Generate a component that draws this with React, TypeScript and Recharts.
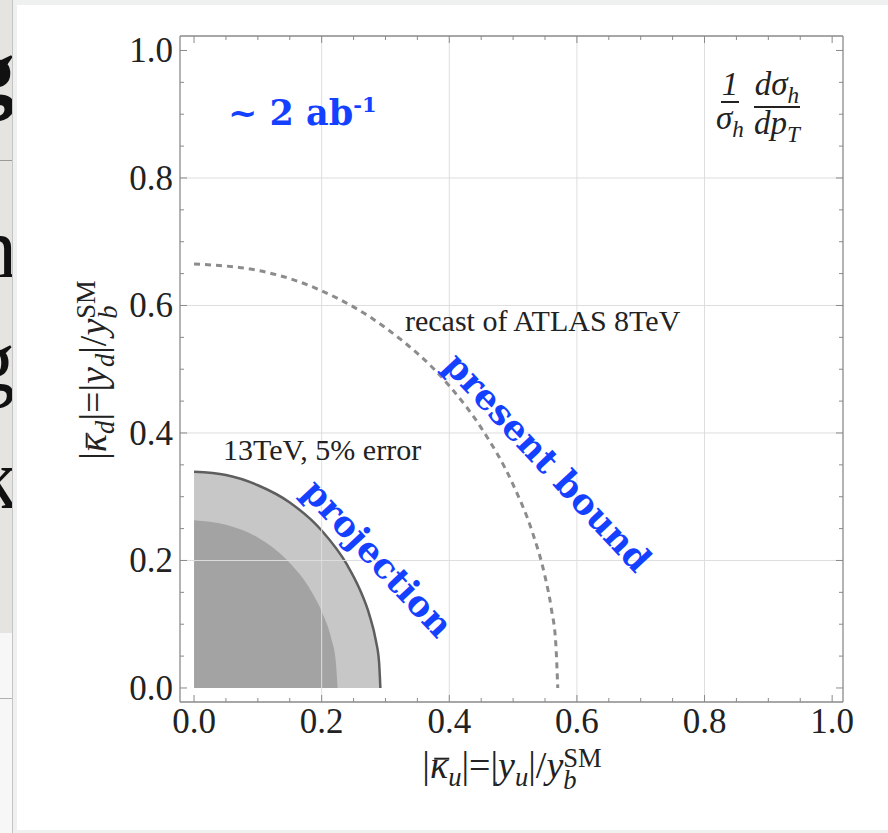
import React from "react";
import { ComposedChart, Area, Line, XAxis, YAxis, ReferenceLine } from "recharts";

// tick positions (minor every 0.05, labels on the 0.2 ones)
const ticks = [
  0, 0.05, 0.1, 0.15, 0.2, 0.25, 0.3, 0.35, 0.4, 0.45, 0.5,
  0.55, 0.6, 0.65, 0.7, 0.75, 0.8, 0.85, 0.9, 0.95, 1.0,
];
const gridValues = [0.2, 0.4, 0.6, 0.8];

// 13TeV, 5% error projection (outer light band)
const outerBand = [
  { x: 0, y: 0.339 },
  { x: 0.05, y: 0.334 },
  { x: 0.1, y: 0.318 },
  { x: 0.15, y: 0.291 },
  { x: 0.2, y: 0.247 },
  { x: 0.24, y: 0.193 },
  { x: 0.26, y: 0.154 },
  { x: 0.275, y: 0.114 },
  { x: 0.285, y: 0.074 },
  { x: 0.29, y: 0.04 },
  { x: 0.292, y: 0 },
];

// inner darker band
const innerBand = [
  { x: 0, y: 0.263 },
  { x: 0.05, y: 0.256 },
  { x: 0.1, y: 0.236 },
  { x: 0.15, y: 0.196 },
  { x: 0.18, y: 0.158 },
  { x: 0.2, y: 0.12 },
  { x: 0.215, y: 0.078 },
  { x: 0.222, y: 0.043 },
  { x: 0.225, y: 0 },
];

// recast of ATLAS 8TeV (present bound)
const atlasBound = [
  { x: 0, y: 0.665 },
  { x: 0.1, y: 0.655 },
  { x: 0.2, y: 0.623 },
  { x: 0.3, y: 0.565 },
  { x: 0.4, y: 0.474 },
  { x: 0.45, y: 0.408 },
  { x: 0.5, y: 0.319 },
  { x: 0.53, y: 0.245 },
  { x: 0.55, y: 0.175 },
  { x: 0.56, y: 0.124 },
  { x: 0.567, y: 0.068 },
  { x: 0.57, y: 0 },
];

const FRAME = "#8a8a8a";
const BLUE = "#1440ff";
const SERIF = "'Liberation Serif', 'Times New Roman', serif";
const BOLD_SERIF = "'DejaVu Serif', serif";
const X_DOMAIN = [-0.022, 1.017];
const Y_DOMAIN = [-0.022, 1.0227];

const isMajor = (v: number) => Math.abs(v * 5 - Math.round(v * 5)) < 1e-6;

const BottomTick = (props: any) => {
  const { x, y, payload } = props;
  const v = payload.value;
  const major = isMajor(v);
  return (
    <g>
      <line x1={x} x2={x} y1={y} y2={y - (major ? 7 : 4)} stroke={FRAME} />
      {major && (
        <text x={x} y={y + 31} textAnchor="middle" fontSize={35} fontFamily={SERIF} fill="#222">
          {v.toFixed(1)}
        </text>
      )}
    </g>
  );
};

const TopTick = (props: any) => {
  const { x, y, payload } = props;
  const major = isMajor(payload.value);
  return <line x1={x} x2={x} y1={y} y2={y + (major ? 7 : 4)} stroke={FRAME} />;
};

const LeftTick = (props: any) => {
  const { x, y, payload } = props;
  const v = payload.value;
  const major = isMajor(v);
  return (
    <g>
      <line x1={x} x2={x + (major ? 7 : 4)} y1={y} y2={y} stroke={FRAME} />
      {major && (
        <text x={x - 7} y={y + 12} textAnchor="end" fontSize={35} fontFamily={SERIF} fill="#222">
          {v.toFixed(1)}
        </text>
      )}
    </g>
  );
};

const RightTick = (props: any) => {
  const { x, y, payload } = props;
  const major = isMajor(payload.value);
  return <line x1={x} x2={x - (major ? 7 : 4)} y1={y} y2={y} stroke={FRAME} />;
};

const Frac = ({ num, den }: { num: React.ReactNode; den: React.ReactNode }) => (
  <span style={{ display: "inline-flex", flexDirection: "column", alignItems: "center", lineHeight: 0.9 }}>
    <span style={{ borderBottom: "2px solid #222", padding: "0 1px 1px" }}>{num}</span>
    <span style={{ paddingTop: 1 }}>{den}</span>
  </span>
);

const SubSup = ({ sub, sup }: { sub: string; sup: string }) => (
  <span style={{ display: "inline-flex", flexDirection: "column", verticalAlign: "middle", fontSize: "0.7em", lineHeight: 0.85 }}>
    <span>{sup}</span>
    <span style={{ fontStyle: "italic" }}>{sub}</span>
  </span>
);

const Kappa = ({ sub }: { sub: string }) => (
  <span>
    <i style={{ position: "relative" }}>
      κ
      <span style={{ position: "absolute", left: "0.12em", right: "-0.02em", top: "0.36em", borderTop: "2px solid #222" }} />
    </i>
    <sub style={{ fontSize: "0.7em", fontStyle: "italic" }}>{sub}</sub>
  </span>
);

const ySub = (text: string) => (
  <span>
    <i>y</i>
    <sub style={{ fontSize: "0.7em", fontStyle: "italic" }}>{text}</sub>
  </span>
);

export default function App() {
  return (
    <div style={{ position: "absolute", left: 0, top: 0, width: 888, height: 833, overflow: "hidden", background: "#fff", fontFamily: SERIF }}>
      {/* page behind the panel */}
      <div style={{ position: "absolute", left: 0, top: 0, width: 13, height: 633, background: "#e6e4e1", overflow: "hidden" }}>
        <div style={{ position: "absolute", left: 0, top: 160, width: 13, height: 1, background: "#9a9a9a" }} />
        <div style={{ position: "absolute", right: -2, top: 28, fontSize: 90, lineHeight: 1, color: "#111", fontWeight: "bold" }}>g</div>
        <div style={{ position: "absolute", right: -4, top: 205, fontSize: 86, lineHeight: 1, color: "#111" }}>h</div>
        <div style={{ position: "absolute", right: -2, top: 318, fontSize: 86, lineHeight: 1, color: "#111" }}>g</div>
        <div style={{ position: "absolute", right: -5, top: 436, fontSize: 86, lineHeight: 1, color: "#111" }}>k</div>
      </div>
      <div style={{ position: "absolute", left: 0, top: 633, width: 13, height: 200, background: "#f7f7f7" }}>
        <div style={{ position: "absolute", left: 0, top: 65, width: 13, height: 1, background: "#b0b0b0" }} />
      </div>
      <div style={{ position: "absolute", left: 12, top: 0, width: 1, height: 833, background: "#c4c4c4" }} />
      <div style={{ position: "absolute", left: 13, top: 0, right: 0, bottom: 0, background: "#fff", borderTop: "5px solid #eef1f0", borderLeft: "4px solid #eef1f0", borderBottom: "3px solid #eef1f0" }} />

      <div style={{ position: "absolute", left: 0, top: 0 }}>
        <ComposedChart width={888} height={833} margin={{ top: 6, right: 15, bottom: 101, left: 120 }}>
          {gridValues.map((v) => (
            <ReferenceLine key={"gx" + v} x={v} stroke="#dedede" strokeWidth={1} />
          ))}
          {gridValues.map((v) => (
            <ReferenceLine key={"gy" + v} y={v} stroke="#dedede" strokeWidth={1} />
          ))}
          <XAxis
            type="number"
            dataKey="x"
            domain={X_DOMAIN}
            allowDataOverflow
            ticks={ticks}
            interval={0}
            height={30}
            tickSize={0}
            tickMargin={0}
            tickLine={false}
            tick={<BottomTick />}
            axisLine={{ stroke: FRAME, strokeWidth: 1.3 }}
          />
          <XAxis
            xAxisId="top"
            orientation="top"
            type="number"
            dataKey="x"
            domain={X_DOMAIN}
            allowDataOverflow
            ticks={ticks}
            interval={0}
            height={30}
            tickSize={0}
            tickMargin={0}
            tickLine={false}
            tick={<TopTick />}
            axisLine={{ stroke: FRAME, strokeWidth: 1.3 }}
          />
          <YAxis
            type="number"
            domain={Y_DOMAIN}
            allowDataOverflow
            ticks={ticks}
            interval={0}
            width={60}
            tickSize={0}
            tickMargin={0}
            tickLine={false}
            tick={<LeftTick />}
            axisLine={{ stroke: FRAME, strokeWidth: 1.3 }}
          />
          <YAxis
            yAxisId="right"
            orientation="right"
            type="number"
            domain={Y_DOMAIN}
            allowDataOverflow
            ticks={ticks}
            interval={0}
            width={30}
            tickSize={0}
            tickMargin={0}
            tickLine={false}
            tick={<RightTick />}
            axisLine={{ stroke: FRAME, strokeWidth: 1.3 }}
          />
          <Area
            data={outerBand}
            dataKey="y"
            type="monotone"
            baseValue={0}
            fill="rgba(0,0,0,0.22)"
            fillOpacity={1}
            stroke="#5e5e5e"
            strokeWidth={2.5}
            dot={false}
            activeDot={false}
            isAnimationActive={false}
          />
          <Area
            data={innerBand}
            dataKey="y"
            type="monotone"
            baseValue={0}
            fill="rgba(0,0,0,0.18)"
            fillOpacity={1}
            stroke="none"
            dot={false}
            activeDot={false}
            isAnimationActive={false}
          />
          <Line
            data={atlasBound}
            dataKey="y"
            type="monotone"
            stroke="#8c8c8c"
            strokeWidth={3}
            strokeDasharray="6 5"
            dot={false}
            activeDot={false}
            isAnimationActive={false}
          />
        </ComposedChart>
      </div>

      {/* axis titles */}
      <div style={{ position: "absolute", left: 512, top: 768, transform: "translate(-50%, -50%)", fontSize: 38, whiteSpace: "nowrap", color: "#222" }}>
        |<Kappa sub="u" />|=|{ySub("u")}|/<i>y</i>
        <SubSup sub="b" sup="SM" />
      </div>
      <div style={{ position: "absolute", left: 96, top: 370, transform: "translate(-50%, -50%) rotate(-90deg)", fontSize: 38, whiteSpace: "nowrap", color: "#222" }}>
        |<Kappa sub="d" />|=|{ySub("d")}|/<i>y</i>
        <SubSup sub="b" sup="SM" />
      </div>

      {/* annotations */}
      <div style={{ position: "absolute", left: 228, top: 94, fontFamily: BOLD_SERIF, fontWeight: "bold", fontSize: 35, color: BLUE, whiteSpace: "nowrap", lineHeight: 1 }}>
        ~ 2 ab<sup style={{ fontSize: "0.6em" }}>-1</sup>
      </div>
      <div style={{ position: "absolute", left: 716, top: 70, fontSize: 33, fontStyle: "italic", color: "#222", display: "flex", gap: 10, whiteSpace: "nowrap" }}>
        <Frac num="1" den={<>σ<sub style={{ fontSize: "0.7em" }}>h</sub></>} />
        <Frac num={<>dσ<sub style={{ fontSize: "0.7em" }}>h</sub></>} den={<>dp<sub style={{ fontSize: "0.7em" }}>T</sub></>} />
      </div>
      <div style={{ position: "absolute", left: 405, top: 306, fontSize: 30, color: "#222", whiteSpace: "nowrap", lineHeight: 1 }}>
        recast of ATLAS 8TeV
      </div>
      <div style={{ position: "absolute", left: 223, top: 435, fontSize: 30, color: "#222", whiteSpace: "nowrap", lineHeight: 1 }}>
        13TeV, 5% error
      </div>
      <div style={{ position: "absolute", left: 378, top: 558, transform: "translate(-50%, -50%) rotate(47deg)", fontFamily: BOLD_SERIF, fontWeight: "bold", fontSize: 35, color: BLUE, whiteSpace: "nowrap", lineHeight: 1 }}>
        projection
      </div>
      <div style={{ position: "absolute", left: 548, top: 462, transform: "translate(-50%, -50%) rotate(47deg)", fontFamily: BOLD_SERIF, fontWeight: "bold", fontSize: 35, color: BLUE, whiteSpace: "nowrap", lineHeight: 1 }}>
        present bound
      </div>
    </div>
  );
}
